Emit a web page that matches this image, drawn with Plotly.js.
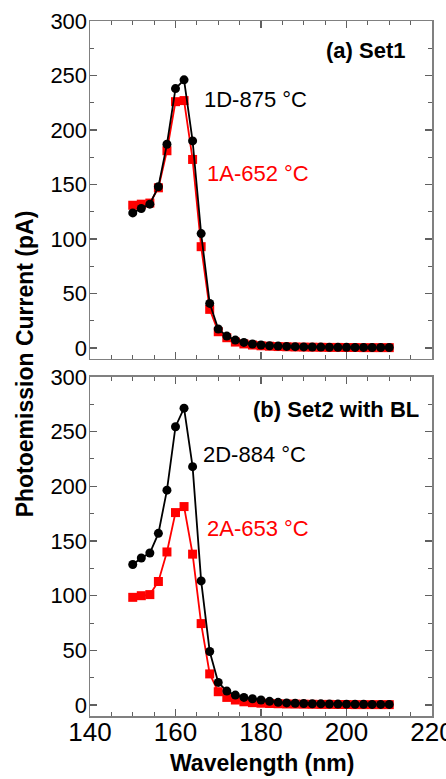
<!DOCTYPE html>
<html>
<head>
<meta charset="utf-8">
<script src="https://cdn.plot.ly/plotly-3.0.1.min.js"></script>
<style>html,body{margin:0;padding:0;background:#fff;}#chart{width:446px;height:779px;}</style>
</head>
<body>
<div id="chart"></div>
<script>
// Wavelength (nm)
const wavelength = [150,152,154,156,158,160,162,164,166,168,170,172,174,176,178,180,182,184,186,188,190,192,194,196,198,200,202,204,206,208,210];

// (a) Set1
const set1_1D = [124,128,132,148,187,238,246,190,105,41,17.5,11,7.3,5.2,3.7,2.8,2.1,1.8,1.5,1.3,1.1,1.0,0.9,0.8,0.7,0.7,0.6,0.6,0.5,0.5,0.5];
const set1_1A = [131,132,133,147,181,226,227,173,93,35.5,15,9.5,5.5,3.8,2.8,2.1,1.7,1.4,1.2,1.0,0.9,0.8,0.7,0.6,0.6,0.5,0.5,0.4,0.4,0.4,0.4];

// (b) Set2 with BL
const set2_2D = [128.5,134.5,139,157,196.5,254.5,271.5,218,113.5,49,20.7,12.8,9.1,7,5.8,4.6,3.4,2.5,2.0,1.7,1.4,1.2,1.1,1.0,0.9,0.8,0.7,0.7,0.6,0.6,0.6];
const set2_2A = [98.5,100,101,113,140,176,181.5,138,74.5,28.5,12.2,7,4.6,3,2.2,1.7,1.4,1.2,1.0,0.9,0.8,0.7,0.6,0.6,0.5,0.5,0.4,0.4,0.4,0.4,0.4];

const labels = {
  panelA: "(a) Set1", panelB: "(b) Set2 with BL",
  s1D: "1D-875 °C", s1A: "1A-652 °C", s2D: "2D-884 °C", s2A: "2A-653 °C",
  xTitle: "Wavelength (nm)", yTitle: "Photoemission Current (pA)"
};

const FONT = "Arial, 'Liberation Sans', sans-serif";
const BLACK = "#000000", RED = "#ff0000";

function trace(y, color, symbol, xa, ya) {
  return {
    x: wavelength, y: y, type: "scatter", mode: "lines+markers",
    xaxis: xa, yaxis: ya,
    line: {color: color, width: 1.8},
    marker: {color: color, symbol: symbol, size: 9},
    showlegend: false, hoverinfo: "skip"
  };
}

const data = [
  trace(set1_1A, RED, "square", "x", "y"),
  trace(set1_1D, BLACK, "circle", "x", "y"),
  trace(set2_2A, RED, "square", "x2", "y2"),
  trace(set2_2D, BLACK, "circle", "x2", "y2")
];

const axisCommon = {
  showline: true, linecolor: "#808080", linewidth: 1.5, mirror: "ticks",
  ticks: "inside", ticklen: 7, tickwidth: 1.2, tickcolor: "#606060",
  showgrid: false, zeroline: false, ticklabeloverflow: "allow"
};

const xCommon = Object.assign({}, axisCommon, {
  range: [140, 220], dtick: 20, tick0: 140,
  minor: {dtick: 5, ticks: "inside", ticklen: 4, tickcolor: "#606060", tickwidth: 1, showgrid: false},
  tickfont: {family: FONT, size: 26, color: "#000"},
  ticklabelstandoff: -8
});
const yCommon = Object.assign({}, axisCommon, {
  range: [-10, 300], dtick: 50, tick0: 0,
  minor: {dtick: 25, ticks: "inside", ticklen: 4, tickcolor: "#606060", tickwidth: 1, showgrid: false},
  tickfont: {family: FONT, size: 22, color: "#000"},
  ticklabelstandoff: -3
});

const layout = {
  width: 446, height: 779,
  margin: {l: 90, r: 14, t: 21, b: 63},
  paper_bgcolor: "#fff", plot_bgcolor: "#fff",
  font: {family: FONT, color: "#000"},
  xaxis: Object.assign({}, xCommon, {anchor: "y", showticklabels: false}),
  yaxis: Object.assign({}, yCommon, {domain: [0.5137, 1], anchor: "x"}),
  xaxis2: Object.assign({}, xCommon, {anchor: "y2", matches: "x"}),
  yaxis2: Object.assign({}, yCommon, {domain: [0, 0.4878], anchor: "x2"}),
  annotations: [
    {text: "<b>" + labels.panelA + "</b>", x: 214.2, y: 273, xref: "x", yref: "y", xanchor: "right", yanchor: "middle", showarrow: false, font: {size: 22, color: "#000"}},
    {text: labels.s1D, x: 166.2, y: 228, xref: "x", yref: "y", xanchor: "left", yanchor: "middle", showarrow: false, font: {size: 22, color: BLACK}},
    {text: labels.s1A, x: 167.0, y: 160.5, xref: "x", yref: "y", xanchor: "left", yanchor: "middle", showarrow: false, font: {size: 22, color: RED}},
    {text: "<b>" + labels.panelB + "</b>", x: 217.4, y: 270, xref: "x2", yref: "y2", xanchor: "right", yanchor: "middle", showarrow: false, font: {size: 22, color: "#000"}},
    {text: labels.s2D, x: 166.0, y: 228.7, xref: "x2", yref: "y2", xanchor: "left", yanchor: "middle", showarrow: false, font: {size: 22, color: BLACK}},
    {text: labels.s2A, x: 166.8, y: 161, xref: "x2", yref: "y2", xanchor: "left", yanchor: "middle", showarrow: false, font: {size: 22, color: RED}},
    {text: "<b>" + labels.xTitle + "</b>", x: 0.504, y: -0.0676, xref: "paper", yref: "paper", xanchor: "center", yanchor: "middle", showarrow: false, font: {size: 23, color: "#000"}},
    {text: "<b>" + labels.yTitle + "</b>", x: -0.19, y: 0.506, xref: "paper", yref: "paper", xanchor: "center", yanchor: "middle", textangle: -90, showarrow: false, font: {size: 23, color: "#000"}}
  ]
};

Plotly.newPlot("chart", data, layout, {displayModeBar: false, staticPlot: true});
</script>
</body>
</html>
